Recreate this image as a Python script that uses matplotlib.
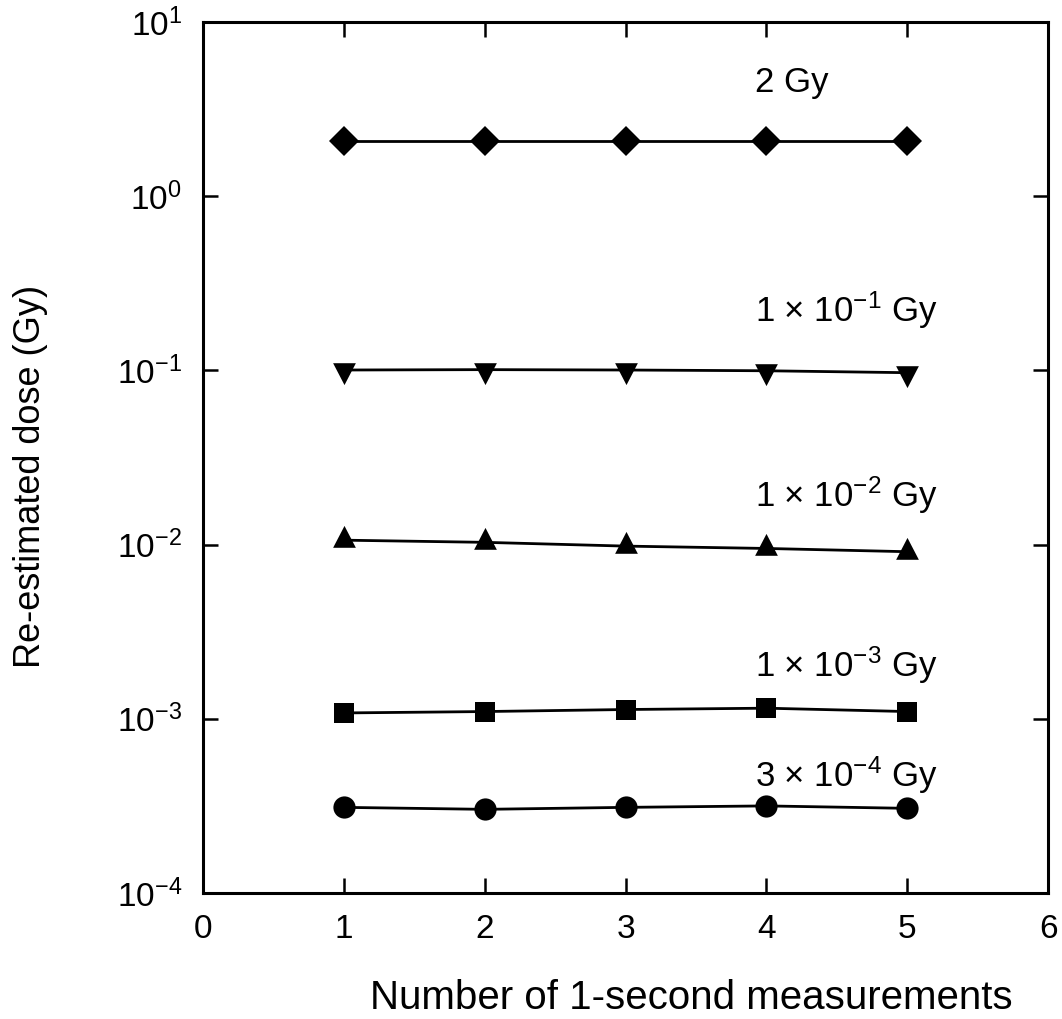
import matplotlib
matplotlib.use("Agg")
import matplotlib.pyplot as plt
from matplotlib.path import Path

plt.rcParams['font.family'] = ['Liberation Sans', 'DejaVu Sans']
plt.rcParams['mathtext.fontset'] = 'custom'
plt.rcParams['mathtext.rm'] = 'Liberation Sans'
plt.rcParams['mathtext.it'] = 'Liberation Sans'
plt.rcParams['mathtext.sf'] = 'Liberation Sans'

measurements = [1, 2, 3, 4, 5]
dose_2gy = [2.07, 2.07, 2.07, 2.07, 2.07]
dose_1e1 = [0.1005, 0.101, 0.1005, 0.0995, 0.097]
dose_1e2 = [0.0106, 0.0103, 0.0098, 0.0095, 0.0091]
dose_1e3 = [0.00108, 0.00110, 0.00113, 0.00115, 0.00110]
dose_3e4 = [3.10e-4, 3.02e-4, 3.10e-4, 3.16e-4, 3.06e-4]

labels = ['2 Gy',
          r'1 $\times$ 10$^{-1}$ Gy',
          r'1 $\times$ 10$^{-2}$ Gy',
          r'1 $\times$ 10$^{-3}$ Gy',
          r'3 $\times$ 10$^{-4}$ Gy']
label_y = [3.96, 0.190, 0.01644, 0.001738, 0.000406]

# triangles centred on their centroid
tri_up = Path([(0, 2 / 3), (-0.52, -1 / 3), (0.52, -1 / 3), (0, 2 / 3)],
              [Path.MOVETO, Path.LINETO, Path.LINETO, Path.CLOSEPOLY])
tri_down = Path([(0, -2 / 3), (-0.52, 1 / 3), (0.52, 1 / 3), (0, -2 / 3)],
                [Path.MOVETO, Path.LINETO, Path.LINETO, Path.CLOSEPOLY])

series = [
    (dose_2gy, 'D', 15),
    (dose_1e1, tri_down, 21),
    (dose_1e2, tri_up, 21),
    (dose_1e3, 's', 15),
    (dose_3e4, 'o', 16),
]

fig = plt.figure(figsize=(10.62, 10.19), dpi=100)
ax = fig.add_axes([0.191, 0.1237, 0.796, 0.8547])

for (vals, mk, ms), label, ly in zip(series, labels, label_y):
    ax.plot(measurements, vals, marker=mk, markersize=ms, color='black',
            linewidth=2, markeredgewidth=0)
    ax.text(3.92, ly, label, fontsize=25, ha='left', va='baseline')

ax.set_yscale('log')
ax.set_xlim(0, 6)
ax.set_ylim(1e-4, 10)
ax.set_xticks([0, 1, 2, 3, 4, 5, 6])
ax.set_yticks([1e-4, 1e-3, 1e-2, 1e-1, 1e0, 1e1])
ax.yaxis.set_minor_locator(matplotlib.ticker.NullLocator())
ax.tick_params(axis='both', which='major', direction='in', length=11, width=1.8,
               labelsize=24, top=True, right=True, pad=15)
for sp in ax.spines.values():
    sp.set_linewidth(2.2)

ax.set_xlabel('Number of 1-second measurements', fontsize=29, va='baseline')
ax.xaxis.set_label_coords(0.5775, -0.1332)
ax.set_ylabel('Re-estimated dose (Gy)', fontsize=26)
ax.yaxis.set_label_coords(-0.1827, 0.478)

fig.savefig('out.png', dpi=100)
